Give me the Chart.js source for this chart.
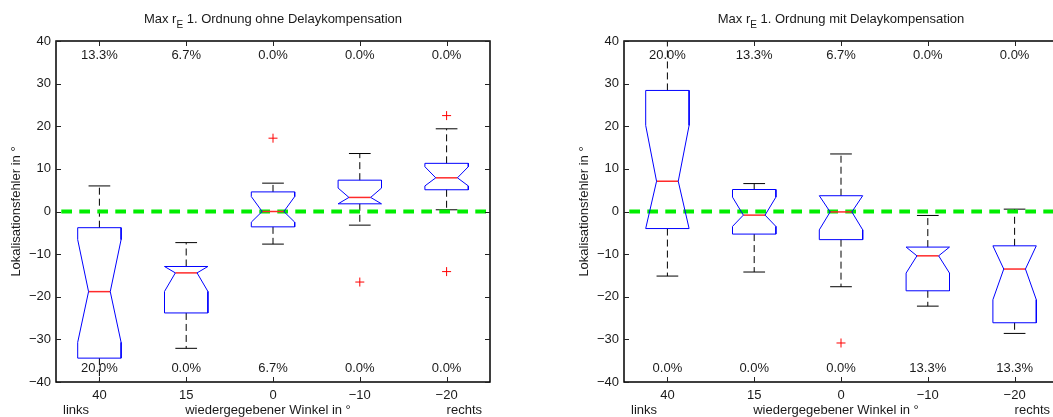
<!DOCTYPE html>
<html>
<head>
<meta charset="utf-8">
<script src="https://cdn.jsdelivr.net/npm/chart.js@4"></script>
<style>
  html, body { margin: 0; padding: 0; background: #fff; overflow: hidden; }
  #wrap { position: relative; width: 1053px; height: 417px; overflow: hidden; }
  canvas { position: absolute; top: 0; }
  #left { left: 0; }
  #right { left: 568px; }
</style>
</head>
<body>
<div id="wrap">
  <canvas id="left" width="526" height="417"></canvas>
  <canvas id="right" width="526" height="417"></canvas>
</div>
<script>
// categories (reproduced angle) and y ticks
const angles = ["40", "15", "0", "\u221210", "\u221220"];
const yTicks = [-40, -30, -20, -10, 0, 10, 20, 30, 40];

// ohne Delaykompensation
const ohneWhiskerLo = [-45, -32.1, -7.65, -3.2, 0.4];
const ohneQ1 = [-34.4, -23.8, -3.6, 1.8, 5.1];
const ohneNotchLo = [-30.7, -18.75, -2.5, 1.8, 6.0];
const ohneMedian = [-18.8, -14.4, 0, 3.3, 7.9];
const ohneNotchHi = [-6.6, -12.9, 3.5, 5.5, 10.5];
const ohneQ3 = [-3.8, -12.9, 4.6, 7.35, 11.3];
const ohneWhiskerHi = [6.0, -7.3, 6.65, 13.6, 19.4];
const ohneOutliers = [[], [], [17.2], [-16.55], [22.5, -14.1]];
const ohneTopPct = ["13.3%", "6.7%", "0.0%", "0.0%", "0.0%"];
const ohneBottomPct = ["20.0%", "0.0%", "6.7%", "0.0%", "0.0%"];

// mit Delaykompensation
const mitWhiskerLo = [-15.15, -14.2, -17.65, -22.2, -28.6];
const mitQ1 = [-4.0, -5.3, -6.6, -18.6, -26.1];
const mitNotchLo = [-4.0, -3.5, -4.3, -14.45, -20.7];
const mitMedian = [7.1, -0.85, -0.1, -10.4, -13.5];
const mitNotchHi = [20.2, 3.37, 3.7, -8.35, -8.05];
const mitQ3 = [28.4, 5.16, 3.7, -8.35, -8.05];
const mitWhiskerHi = [45, 6.55, 13.5, -0.93, 0.55];
const mitOutliers = [[], [], [-30.85], [], []];
const mitTopPct = ["20.0%", "13.3%", "6.7%", "0.0%", "0.0%"];
const mitBottomPct = ["0.0%", "0.0%", "0.0%", "13.3%", "13.3%"];

const FONT = "'Liberation Sans', Arial, Helvetica, sans-serif";
const TEXT = "#1a1a1a";

function line(points, color, width, dash, order) {
	return {
		data: points,
		showLine: true,
		borderColor: color,
		borderWidth: width,
		borderDash: dash || [],
		pointRadius: 0,
		fill: false,
		order: order || 1,
	};
}

function boxDatasets(s) {
	const ds = [];
	const w = 0.25, n = 0.125;
	for (let i = 0; i < angles.length; i++) {
		const x = i + 1;
		const wLo = s.whiskerLo[i], q1 = s.q1[i], nLo = s.notchLo[i];
		const med = s.median[i], nHi = s.notchHi[i], q3 = s.q3[i], wHi = s.whiskerHi[i];
		// whiskers
		ds.push(line([{ x: x, y: q3 }, { x: x, y: wHi }], "#000", 1, [7, 4], 2));
		ds.push(line([{ x: x - n, y: wHi }, { x: x + n, y: wHi }], "#000", 1, null, 2));
		ds.push(line([{ x: x, y: q1 }, { x: x, y: wLo }], "#000", 1, [7, 4], 2));
		ds.push(line([{ x: x - n, y: wLo }, { x: x + n, y: wLo }], "#000", 1, null, 2));
		// notched box
		ds.push(line([
			{ x: x - w, y: q1 }, { x: x - w, y: nLo }, { x: x - n, y: med },
			{ x: x - w, y: nHi }, { x: x - w, y: q3 }, { x: x + w, y: q3 },
			{ x: x + w, y: nHi }, { x: x + n, y: med }, { x: x + w, y: nLo },
			{ x: x + w, y: q1 }, { x: x - w, y: q1 },
		], "#0000ff", 1, null, 1));
		// median
		ds.push(line([{ x: x - n, y: med }, { x: x + n, y: med }], "#ff2a2a", 1.5, null, 1));
	}
	const outPts = [];
	s.outliers.forEach((arr, i) => arr.forEach((v) => outPts.push({ x: i + 1, y: v })));
	ds.push({
		data: outPts,
		showLine: false,
		pointStyle: "cross",
		pointRadius: 4.5,
		borderColor: "#ff0000",
		borderWidth: 1,
		order: 1,
	});
	// zero reference line
	const zero = line([{ x: 0.5, y: 0 }, { x: 5.5, y: 0 }], "#00ee00", 4, [10.7, 7.3], 0);
	zero.borderDashOffset = 12.7;
	ds.push(zero);
	return ds;
}

const decorPlugin = {
	id: "decor",
	afterDraw(chart, args, opts) {
		const ctx = chart.ctx;
		const a = chart.chartArea;
		const xs = chart.scales.x, ys = chart.scales.y;
		ctx.save();
		// frame
		ctx.strokeStyle = "#000";
		ctx.lineWidth = 1.5;
		ctx.beginPath();
		ctx.rect(a.left, a.top, a.right - a.left, a.bottom - a.top);
		ctx.stroke();
		ctx.lineWidth = 1;
		ctx.strokeStyle = "#222";
		ctx.beginPath();
		yTicks.forEach((v) => {
			const y = Math.round(ys.getPixelForValue(v)) + 0.5;
			ctx.moveTo(a.left, y); ctx.lineTo(a.left + 5, y);
			ctx.moveTo(a.right, y); ctx.lineTo(a.right - 5, y);
		});
		angles.forEach((lab, i) => {
			const x = Math.round(xs.getPixelForValue(i + 1)) + 0.5;
			ctx.moveTo(x, a.bottom); ctx.lineTo(x, a.bottom - 5);
			ctx.moveTo(x, a.top); ctx.lineTo(x, a.top + 5);
		});
		ctx.stroke();

		ctx.fillStyle = TEXT;
		ctx.font = "13px " + FONT;
		ctx.textAlign = "center";
		ctx.textBaseline = "middle";
		opts.topPct.forEach((t, i) => ctx.fillText(t, xs.getPixelForValue(i + 1), ys.getPixelForValue(36.5)));
		opts.bottomPct.forEach((t, i) => ctx.fillText(t, xs.getPixelForValue(i + 1), ys.getPixelForValue(-36.9)));

		// title with subscript
		const cx = (a.left + a.right) / 2;
		const pre = "Max r", sub = "E", post = " 1. Ordnung " + opts.title;
		ctx.textBaseline = "alphabetic";
		ctx.textAlign = "left";
		ctx.font = "13px " + FONT;
		const wPre = ctx.measureText(pre).width;
		const wPost = ctx.measureText(post).width;
		ctx.font = "10px " + FONT;
		const wSub = ctx.measureText(sub).width;
		let tx = cx - (wPre + wSub + wPost) / 2;
		ctx.font = "13px " + FONT;
		ctx.fillText(pre, tx, 23);
		ctx.font = "10px " + FONT;
		ctx.fillText(sub, tx + wPre, 28);
		ctx.font = "13px " + FONT;
		ctx.fillText(post, tx + wPre + wSub, 23);

		// axis texts
		ctx.fillText("links", 63, 414);
		ctx.fillText("rechts", xs.getPixelForValue(5), 414);
		ctx.textAlign = "center";
		ctx.fillText("wiedergegebener Winkel in \u00b0", 268, 414);

		ctx.translate(20, (a.top + a.bottom) / 2);
		ctx.rotate(-Math.PI / 2);
		ctx.fillText("Lokalisationsfehler in \u00b0", 0, 0);
		ctx.restore();
	},
};

function makeChart(canvas, stats, title, topPct, bottomPct) {
	return new Chart(canvas, {
		type: "scatter",
		data: { datasets: boxDatasets(stats) },
		plugins: [decorPlugin],
		options: {
			responsive: false,
			animation: false,
			events: [],
			layout: { padding: { top: 41, right: 36, left: 0, bottom: 0 } },
			scales: {
				x: {
					type: "linear",
					min: 0.5,
					max: 5.5,
					afterBuildTicks: (scale) => {
						scale.ticks = angles.map((_, i) => ({ value: i + 1 }));
					},
					afterFit: (scale) => { scale.height = 35; },
					grid: { display: false, drawTicks: false },
					border: { display: false },
					ticks: {
						padding: 6,
						color: TEXT,
						font: { family: FONT, size: 13 },
						callback: (v) => angles[v - 1],
						maxRotation: 0,
						autoSkip: false,
					},
				},
				y: {
					min: -40,
					max: 40,
					afterBuildTicks: (scale) => {
						scale.ticks = yTicks.map((v) => ({ value: v }));
					},
					afterFit: (scale) => { scale.width = 56; },
					grid: { display: false, drawTicks: false },
					border: { display: false },
					ticks: {
						padding: 5,
						color: TEXT,
						font: { family: FONT, size: 13 },
						callback: (v) => String(v).replace("-", "\u2212"),
					},
				},
			},
			plugins: {
				legend: { display: false },
				tooltip: { enabled: false },
				decor: { title: title, topPct: topPct, bottomPct: bottomPct },
			},
		},
	});
}

makeChart(document.getElementById("left"), {
	whiskerLo: ohneWhiskerLo, q1: ohneQ1, notchLo: ohneNotchLo, median: ohneMedian,
	notchHi: ohneNotchHi, q3: ohneQ3, whiskerHi: ohneWhiskerHi, outliers: ohneOutliers,
}, "ohne Delaykompensation", ohneTopPct, ohneBottomPct);

makeChart(document.getElementById("right"), {
	whiskerLo: mitWhiskerLo, q1: mitQ1, notchLo: mitNotchLo, median: mitMedian,
	notchHi: mitNotchHi, q3: mitQ3, whiskerHi: mitWhiskerHi, outliers: mitOutliers,
}, "mit Delaykompensation", mitTopPct, mitBottomPct);
</script>
</body>
</html>
